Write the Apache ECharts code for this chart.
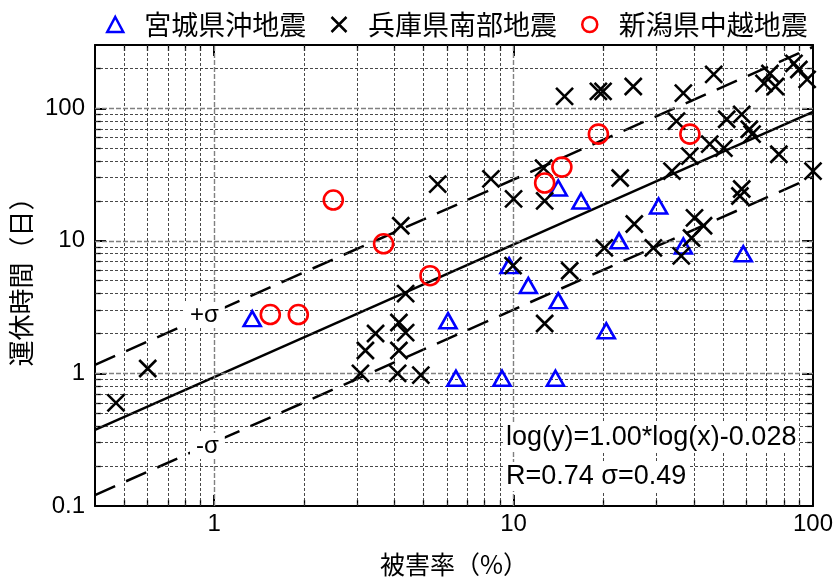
<!DOCTYPE html>
<html><head><meta charset="utf-8">
<script src="https://cdn.jsdelivr.net/npm/echarts@6/dist/echarts.min.js"></script>
<style>html,body{margin:0;padding:0;background:#fff}#c{width:840px;height:581px}</style>
</head><body><div id="c"></div>
<script>
// ---- data ----
const miyagiX = [1.34, 6.04, 6.42, 9.15, 13.8, 9.66, 11.2, 14.1, 20.4, 22.5, 14.1, 16.8, 30.5, 36.9, 58.5];
const miyagiY = [2.59, 2.5, 0.92, 0.92, 0.92, 6.5, 4.6, 3.54, 2.1, 10, 25, 20, 18.3, 9.15, 8.0];

const hyogoX = [0.47, 0.6, 3.08, 3.2, 3.46, 4.1, 4.14, 4.14, 4.36, 4.36, 4.2, 4.9, 5.58, 8.4, 10.0, 9.96, 12.6, 12.7, 12.7, 15.4,
  14.8, 19.2, 19.9, 20.1, 22.7, 25.1, 25.3, 29.3, 33.8, 35, 36.9, 36.3, 38.8, 39.3, 40.2, 43.1, 45.2, 46.6, 50.4, 51.5,
  57.8, 57.8, 57, 61.3, 62.6, 68.6, 71.8, 74.9, 76.9, 86.4, 89.7, 95.6, 100];
const hyogoY = [0.6, 1.09, 1.0, 1.49, 2.0, 1.0, 1.49, 2.42, 2.03, 4.0, 13.0, 0.97, 26.8, 29.3, 20.7, 6.5, 35.4, 20, 2.38, 5.95,
  123, 134, 134, 8.86, 29.8, 146, 13.4, 8.86, 33.6, 80, 130, 7.7, 43.5, 10.5, 14.9, 13, 53.6, 180, 50, 82.6,
  90, 24.6, 21.8, 69.5, 63.8, 154, 183, 146, 45, 218, 196, 165, 33.6];

const niigataX = [1.54, 1.91, 2.5, 3.68, 5.26, 12.7, 14.5, 19.2, 38.8];
const niigataY = [2.78, 2.78, 20.3, 9.5, 5.46, 27.3, 36, 63.8, 63.8];

// regression line log(y)=1.00*log(x)-0.028 and +/- sigma (sigma=0.49), end points
const fitX = [0.4, 100];
const fitY = [0.375, 93.8];
const upperY = [1.16, 290];
const lowerY = [0.121, 30.3];

// axis ticks / grid values
const xMajorTicks = [1, 10, 100];
const xMinorTicks = [0.5, 0.6, 0.7, 0.8, 0.9, 2, 3, 4, 5, 6, 7, 8, 9, 20, 30, 40, 50, 60, 70, 80, 90];
const yMajorTicks = [0.1, 1, 10, 100];
const yMinorTicks = [0.2, 0.3, 0.4, 0.5, 0.6, 0.7, 0.8, 0.9, 2, 3, 4, 5, 6, 7, 8, 9, 20, 30, 40, 50, 60, 70, 80, 90, 200];
const xGridMajor = [1, 10];
const yGridMajor = [1, 10, 100];

const names = ['宮城県沖地震', '兵庫県南部地震', '新潟県中越地震'];
const xTitle = '被害率（%）';
const yTitle = '運休時間（日）';

// ---- chart ----
const NUM_FONT = '"Liberation Sans", Arial, sans-serif';
const CJK_FONT = '"Noto Sans CJK JP", sans-serif';
const XPATH = 'path://M0,0L20,20M20,0L0,20';

function pairs(xs, ys) { return xs.map((x, i) => [x, ys[i]]); }

function xAx(pos, ticks, len, showLine, labels) {
  return {
    type: 'log', logBase: 10, min: 0.4, max: 100, position: pos, gridIndex: 0,
    axisLine: { show: showLine, onZero: false, lineStyle: { color: '#000', width: 2 } },
    axisTick: { show: true, inside: true, length: len, customValues: ticks, lineStyle: { color: '#000', width: len > 8 ? 2 : 1.3 } },
    axisLabel: labels ? { show: true, customValues: labels, margin: 6, fontSize: 24, color: '#000', fontFamily: NUM_FONT,
      formatter: v => (labels.indexOf(+v) >= 0 ? String(v) : '') } : { show: false },
    splitLine: { show: false }, minorTick: { show: false }, minorSplitLine: { show: false }
  };
}
function yAx(pos, ticks, len, showLine, labels) {
  return {
    type: 'log', logBase: 10, min: 0.1, max: 300, position: pos, gridIndex: 0,
    axisLine: { show: showLine, onZero: false, lineStyle: { color: '#000', width: 2 } },
    axisTick: { show: true, inside: true, length: len, customValues: ticks, lineStyle: { color: '#000', width: len > 8 ? 2 : 1.3 } },
    axisLabel: labels ? { show: true, customValues: labels, margin: 10, fontSize: 24, color: '#000', fontFamily: NUM_FONT,
      formatter: v => (labels.indexOf(+v) >= 0 ? String(v) : '') } : { show: false },
    splitLine: { show: false }, minorTick: { show: false }, minorSplitLine: { show: false }
  };
}

const xAxes = [
  Object.assign(xAx('bottom', xMajorTicks, 11, true, [1, 10, 100]), {
    name: xTitle, nameLocation: 'middle', nameGap: 46,
    nameTextStyle: { fontSize: 25, color: '#000', fontFamily: CJK_FONT }
  }),
  xAx('bottom', xMinorTicks, 6, false, null),
  xAx('top', xMajorTicks, 11, true, null),
  xAx('top', xMinorTicks, 6, false, null)
];
const yAxes = [
  Object.assign(yAx('left', yMajorTicks, 11, true, [0.1, 1, 10, 100]), {
    name: yTitle, nameLocation: 'middle', nameRotate: 90, nameGap: 46,
    nameTextStyle: { fontSize: 26, color: '#000', fontFamily: CJK_FONT }
  }),
  yAx('left', yMinorTicks, 6, false, null),
  yAx('right', yMajorTicks, 11, true, null),
  yAx('right', yMinorTicks, 6, false, null)
];

const majorGrid = { color: '#808080', width: 1.4, type: [5, 2] };
const minorGrid = { color: '#333', width: 0.9, type: [3, 2] };
const gridLines = []
  .concat(xGridMajor.map(v => ({ xAxis: v, lineStyle: majorGrid })))
  .concat(xMinorTicks.map(v => ({ xAxis: v, lineStyle: minorGrid })))
  .concat(yGridMajor.map(v => ({ yAxis: v, lineStyle: majorGrid })))
  .concat(yMinorTicks.map(v => ({ yAxis: v, lineStyle: minorGrid })));

const option = {
  backgroundColor: '#fff',
  animation: false,
  grid: { left: 95, right: 27, top: 45, bottom: 75, containLabel: false, outerBoundsMode: 'none' },
  xAxis: xAxes,
  yAxis: yAxes,
  legend: {
    top: 6, left: 101, itemGap: 24, itemWidth: 16, itemHeight: 15, selectedMode: false,
    formatter: name => '{g| }' + name,
    textStyle: { fontSize: 27, color: '#000', fontFamily: CJK_FONT, rich: { g: { width: 16, fontSize: 27 } } },
    data: [
      { name: names[0], icon: 'triangle', itemStyle: { color: 'rgba(0,0,0,0)', borderColor: '#0000ff', borderWidth: 2.5, opacity: 1 } },
      { name: names[1], icon: XPATH, itemStyle: { color: 'rgba(0,0,0,0)', borderColor: '#000', borderWidth: 2.5, opacity: 1 } },
      { name: names[2], icon: 'circle', itemStyle: { color: 'rgba(0,0,0,0)', borderColor: '#ff0000', borderWidth: 2.5, opacity: 1 } }
    ]
  },
  graphic: [
    { type: 'text', left: 184, top: 302, z: 100, style: { text: '+σ', font: '24px ' + NUM_FONT, fill: '#000', backgroundColor: '#fff', padding: [1, 6] } },
    { type: 'text', left: 190, top: 433, z: 100, style: { text: '-σ', font: '24px ' + NUM_FONT, fill: '#000', backgroundColor: '#fff', padding: [1, 6] } },
    { type: 'text', left: 504, top: 423, z: 100, style: { text: 'log(y)=1.00*log(x)-0.028', font: '27px ' + NUM_FONT, fill: '#000', backgroundColor: '#fff', padding: [1, 2] } },
    { type: 'text', left: 504, top: 462, z: 100, style: { text: 'R=0.74 σ=0.49', font: '27px ' + NUM_FONT, fill: '#000', backgroundColor: '#fff', padding: [1, 2] } }
  ],
  series: [
    {
      type: 'scatter', name: '_grid', data: [], z: 0, silent: true,
      markLine: { silent: true, symbol: ['none', 'none'], animation: false, label: { show: false }, data: gridLines }
    },
    { type: 'line', name: 'fit', data: pairs(fitX, fitY), symbol: 'none', z: 3, silent: true,
      lineStyle: { color: '#000', width: 2.5 } },
    { type: 'line', name: 'plus', data: pairs(fitX, upperY), symbol: 'none', z: 3, silent: true,
      lineStyle: { color: '#000', width: 2.5, type: [22, 12] } },
    { type: 'line', name: 'minus', data: pairs(fitX, lowerY), symbol: 'none', z: 3, silent: true,
      lineStyle: { color: '#000', width: 2.5, type: [22, 12] } },
    { type: 'scatter', name: names[0], data: pairs(miyagiX, miyagiY), symbol: 'triangle', symbolSize: [17, 15], z: 5,
      itemStyle: { color: 'rgba(0,0,0,0)', borderColor: '#0000ff', borderWidth: 2.6, opacity: 1 } },
    { type: 'scatter', name: names[1], data: pairs(hyogoX, hyogoY), symbol: XPATH, symbolSize: 17, z: 6,
      itemStyle: { color: 'rgba(0,0,0,0)', borderColor: '#000', borderWidth: 2.6, opacity: 1 } },
    { type: 'scatter', name: names[2], data: pairs(niigataX, niigataY), symbol: 'circle', symbolSize: 19, z: 7,
      itemStyle: { color: 'rgba(0,0,0,0)', borderColor: '#ff0000', borderWidth: 2.6, opacity: 1 } }
  ]
};
const chart = echarts.init(document.getElementById('c'), null, { renderer: 'canvas' });
chart.setOption(option);
</script>
</body></html>
